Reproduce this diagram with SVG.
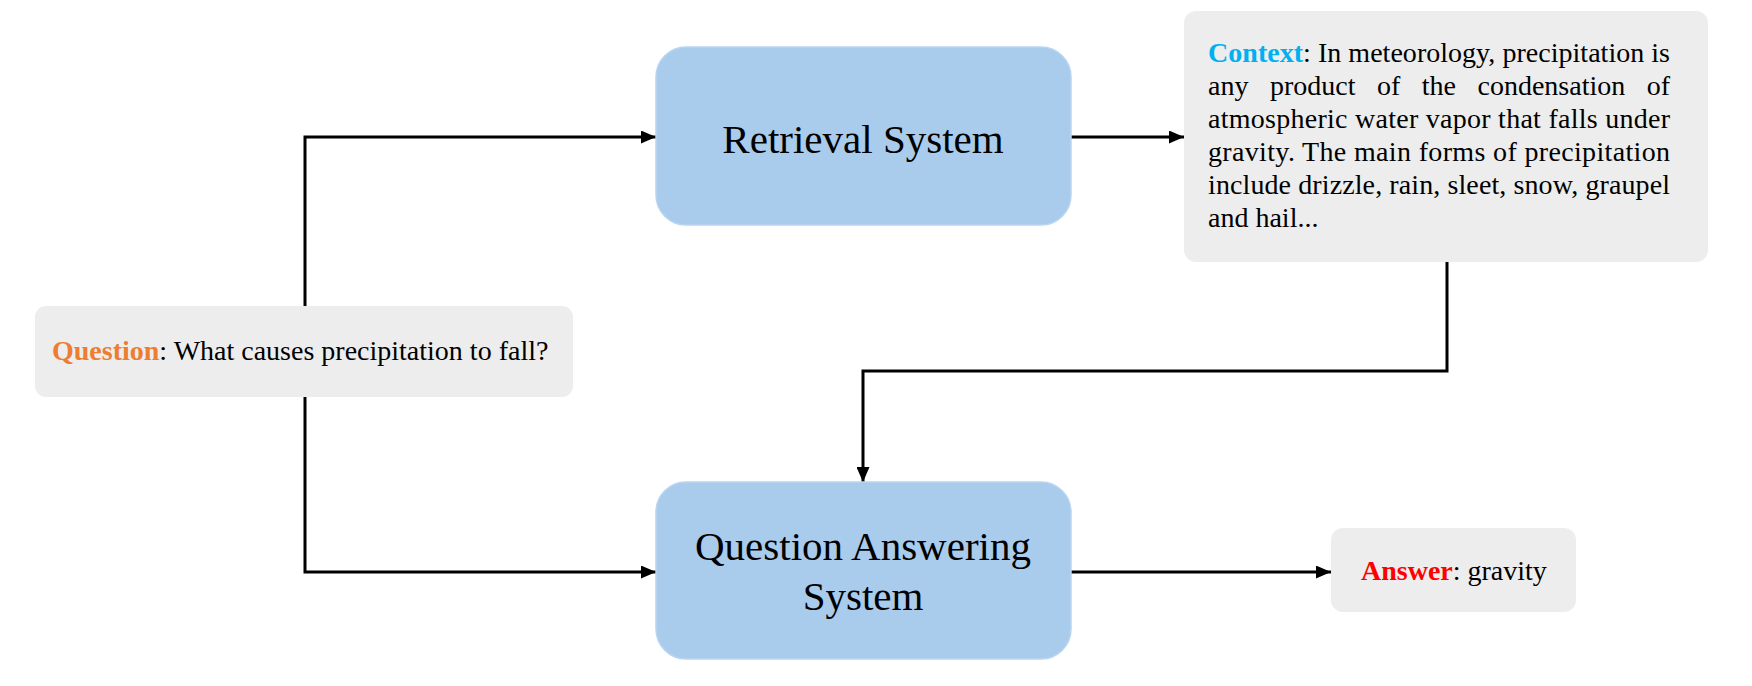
<svg xmlns="http://www.w3.org/2000/svg" width="1752" height="686" viewBox="0 0 1752 686">
<style>
.blue{fill:#A9CBEC;stroke:#B9D5F0;stroke-width:1.5}
.gray{fill:#EDEDED}
.big{font-family:"Liberation Serif","Times New Roman",serif;font-size:41px;fill:#000;text-anchor:middle}
.txt{font-family:"Liberation Serif","Times New Roman",serif;font-size:28px;fill:#000}
.b{font-weight:bold}
.conn{fill:none;stroke:#000;stroke-width:3}
</style>
<defs>
<marker id="ah" markerWidth="15" markerHeight="13" refX="15" refY="6.5" orient="auto" markerUnits="userSpaceOnUse">
<path d="M0,0 L15,6.5 L0,13 Z" fill="#000"/>
</marker>
</defs>
<rect width="1752" height="686" fill="#fff"/>
<g id="connectors">
<path class="conn" d="M305 306 V137 H656" marker-end="url(#ah)"/>
<path class="conn" d="M305 397 V572 H656" marker-end="url(#ah)"/>
<path class="conn" d="M1071 137 H1184" marker-end="url(#ah)"/>
<path class="conn" d="M1447 262 V371 H863 V482" marker-end="url(#ah)"/>
<path class="conn" d="M1071 572 H1331" marker-end="url(#ah)"/>
</g>
<g id="question">
<rect class="gray" x="35" y="306" width="538" height="91" rx="11"/>
<text class="txt" x="52" y="360"><tspan class="b" fill="#ED7D31">Question</tspan>: What causes precipitation to fall?</text>
</g>
<g id="retrieval">
<rect class="blue" x="656" y="47" width="415" height="178" rx="30"/>
<text class="big" x="863" y="153">Retrieval System</text>
</g>
<g id="context">
<rect class="gray" x="1184" y="11" width="524" height="251" rx="12"/>
<text class="txt" x="1208" y="62" textLength="462" lengthAdjust="spacing"><tspan class="b" fill="#00B0F0">Context</tspan>: In meteorology, precipitation is</text>
<text class="txt" x="1208" y="95" word-spacing="14.5">any product of the condensation of</text>
<text class="txt" x="1208" y="128" textLength="462" lengthAdjust="spacing">atmospheric water vapor that falls under</text>
<text class="txt" x="1208" y="161" textLength="462" lengthAdjust="spacing">gravity. The main forms of precipitation</text>
<text class="txt" x="1208" y="194" textLength="462" lengthAdjust="spacing">include drizzle, rain, sleet, snow, graupel</text>
<text class="txt" x="1208" y="227">and hail...</text>
</g>
<g id="qa">
<rect class="blue" x="656" y="482" width="415" height="177" rx="30"/>
<text class="big" x="863" y="560">Question Answering</text>
<text class="big" x="863" y="610">System</text>
</g>
<g id="answer">
<rect class="gray" x="1331" y="528" width="245" height="84" rx="12"/>
<text class="txt" x="1361" y="580"><tspan class="b" fill="#FF0000">Answer</tspan>: gravity</text>
</g>
</svg>
